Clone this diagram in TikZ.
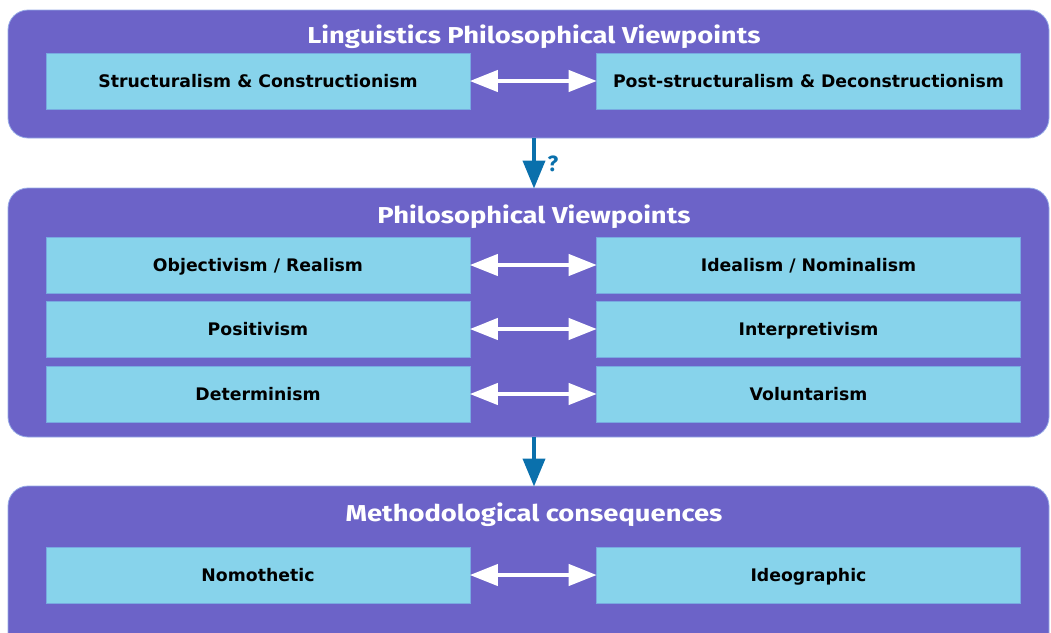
\documentclass[tikz,border=0pt]{standalone}
\usepackage{fontspec}
\usetikzlibrary{arrows.meta}
\newfontfamily\boxfont{DejaVu Sans}
\newfontfamily\titlefont{Fira Sans}[FakeStretch=1.19]
\newfontfamily\qfont{Fira Sans}
\definecolor{panelpurple}{RGB}{108,99,200}
\definecolor{paneledge}{RGB}{150,170,230}
\definecolor{boxblue}{RGB}{135,211,235}
\definecolor{boxedge}{RGB}{120,170,225}
\definecolor{flowblue}{RGB}{10,112,172}
\tikzset{
  panel/.style={fill=panelpurple, draw=paneledge, line width=0.8pt, rounded corners=20pt},
  itembox/.style={rectangle, fill=boxblue, draw=boxedge, line width=0.6pt, minimum width=424pt, minimum height=56pt, inner sep=0pt, text height=12.6pt, text depth=0pt, font=\boxfont\bfseries\fontsize{17.3}{20}\selectfont, text=black},
  paneltitle/.style={inner sep=0pt, text height=15.8pt, text depth=0pt, text=white, font=\titlefont\bfseries\fontsize{23}{27}\selectfont},
  twoway/.style={white, line width=4pt, {Triangle[length=28pt,width=21pt]}-{Triangle[length=28pt,width=21pt]}, shorten <=-0.5pt, shorten >=-0.5pt},
  flow/.style={flowblue, line width=4pt, -{Triangle[length=28pt,width=22pt]}, shorten >=-0.5pt}
}
\begin{document}
\begin{tikzpicture}[x=1pt,y=-1pt]
\useasboundingbox (0,0) rectangle (1051,632);
\clip (0,0) rectangle (1051,632);
% panels
\path[panel] (8,10) rectangle (1049,138);
\path[panel] (8,188) rectangle (1049,437);
\path[panel] (8,486) rectangle (1049,680);
% titles
\node[paneltitle] (t1) at (534,35.5) {Linguistics Philosophical Viewpoints};
\node[paneltitle] (t2) at (534,215.5) {Philosophical Viewpoints};
\node[paneltitle] (t3) at (534,513.5) {Methodological consequences};
% boxes
\node[itembox] (a1) at (258,81) {Structuralism \& Constructionism};
\node[itembox] (b1) at (808.5,81) {Post-structuralism \& Deconstructionism};
\node[itembox] (a2) at (258,265) {Objectivism / Realism};
\node[itembox] (b2) at (808.5,265) {Idealism / Nominalism};
\node[itembox] (a3) at (258,329) {Positivism};
\node[itembox] (b3) at (808.5,329) {Interpretivism};
\node[itembox] (a4) at (258,394) {Determinism};
\node[itembox] (b4) at (808.5,394) {Voluntarism};
\node[itembox] (a5) at (258,575) {Nomothetic};
\node[itembox] (b5) at (808.5,575) {Ideographic};
% two-way arrows
\foreach \i in {1,...,5}{\draw[twoway] (a\i.east) -- (b\i.west);}
% flow arrows
\coordinate (p1b) at (534,138);
\coordinate (p2t) at (534,188);
\coordinate (p2b) at (534,437);
\coordinate (p3t) at (534,486);
\draw[flow] (p1b) -- (p2t);
\draw[flow] (p2b) -- (p3t);
\node[text=flowblue, font=\qfont\bfseries\fontsize{22}{26}\selectfont, inner sep=0pt] (q) at (553,164) {?};
\end{tikzpicture}
\end{document}
